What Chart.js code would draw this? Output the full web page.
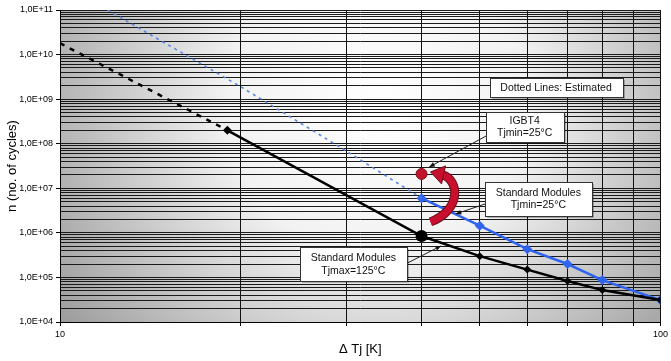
<!DOCTYPE html>
<html>
<head>
<meta charset="utf-8">
<script src="https://cdn.jsdelivr.net/npm/chart.js@4.4.1/dist/chart.umd.min.js"></script>
<style>
    html, body { margin: 0; padding: 0; background: #fff; }
    #wrap { width: 671px; height: 361px; }
</style>
</head>
<body>
<div id="wrap"><canvas id="cyclesChart" width="671" height="361"></canvas></div>
<script>
// Values (x: delta Tj in K, y: number of cycles)
const blackEstX = [10, 19];
const blackEstY = [1.8e10, 2.0e8];
const blackX = [19, 40, 50, 60, 70, 80, 100];
const blackY = [2.0e8, 8.5e5, 3.0e5, 1.5e5, 8.3e4, 5.2e4, 3.1e4];

const blueEstX = [12, 20, 30, 40];
const blueEstY = [1.0e11, 1.9e9, 6.8e7, 6.0e6];
const blueX = [40, 50, 60, 70, 80, 100];
const blueY = [6.0e6, 1.45e6, 4.3e5, 2.0e5, 8.7e4, 3.1e4];

const igbtX = [40];
const igbtY = [2.1e7];

const xTickValues = [10, 20, 30, 40, 50, 60, 70, 80, 90, 100];
const xTickLabels = ['10', '', '', '', '', '', '', '', '', '100'];
const yTickValues = [1e4, 1e5, 1e6, 1e7, 1e8, 1e9, 1e10, 1e11];
const yTickLabels = ['1,0E+04', '1,0E+05', '1,0E+06', '1,0E+07', '1,0E+08', '1,0E+09', '1,0E+10', '1,0E+11'];
const minorSteps = [2, 3, 4, 5, 6, 7, 8, 9];

const toPoints = (xs, ys) => xs.map((v, i) => ({ x: v, y: ys[i] }));

// callout boxes, anchored in data units
const callouts = [
    { lines: ['Dotted Lines: Estimated'], at: [67, 1.8e9], w: 133, h: 19 },
    { lines: ['IGBT4', 'Tjmin=25°C'], at: [59.4, 2.4e8], w: 78, h: 30, side: 'left', dy: 9, tip: [41.2, 3.0e7] },
    { lines: ['Standard Modules', 'Tjmin=25°C'], at: [62.6, 5.8e6], w: 107, h: 34, side: 'left', dy: 5, tip: [45.6, 2.65e6] },
    { lines: ['Standard Modules', 'Tjmax=125°C'], at: [30.8, 2.0e5], w: 107, h: 34, side: 'right', dy: -1, tip: [43.1, 5.1e5] },
];

const plotBackground = {
    id: 'plotBackground',
    beforeDraw(chart) {
        const { ctx, chartArea: a } = chart;
        ctx.save();
        const cx = a.left + a.width * 0.53, cy = a.top + a.height * 0.3;
        const g = ctx.createRadialGradient(cx, cy, 0, cx, cy, 430);
        g.addColorStop(0, '#ffffff');
        g.addColorStop(0.35, '#f2f2f2');
        g.addColorStop(1, '#8c8c8c');
        ctx.fillStyle = g;
        ctx.fillRect(a.left, a.top, a.width, a.height);
        ctx.restore();
    }
};

function arrowHead(ctx, fx, fy, tx, ty, size) {
    const ang = Math.atan2(ty - fy, tx - fx);
    ctx.beginPath();
    ctx.moveTo(tx, ty);
    ctx.lineTo(tx - size * Math.cos(ang - 0.4), ty - size * Math.sin(ang - 0.4));
    ctx.lineTo(tx - size * Math.cos(ang + 0.4), ty - size * Math.sin(ang + 0.4));
    ctx.closePath();
    ctx.fill();
}

const calloutPlugin = {
    id: 'callouts',
    afterDatasetsDraw(chart) {
        const { ctx, scales: { x, y } } = chart;
        ctx.save();

        // red curved arrow next to the IGBT4 point
        const px = x.getPixelForValue(igbtX[0]);
        const py = y.getPixelForValue(igbtY[0]);
        ctx.lineCap = 'butt';
        const body = () => {
            ctx.beginPath();
            ctx.moveTo(px + 9, py + 48);
            ctx.bezierCurveTo(px + 40, py + 36, px + 38, py + 6, px + 21, py + 1);
        };
        ctx.strokeStyle = '#6e0c18';
        ctx.lineWidth = 9;
        body(); ctx.stroke();
        ctx.strokeStyle = '#c8102e';
        ctx.lineWidth = 7;
        body(); ctx.stroke();
        ctx.beginPath();
        ctx.moveTo(px + 9, py - 2);
        ctx.lineTo(px + 24, py - 8);
        ctx.lineTo(px + 20, py + 10);
        ctx.closePath();
        ctx.fillStyle = '#c8102e';
        ctx.fill();
        ctx.strokeStyle = '#6e0c18';
        ctx.lineWidth = 1;
        ctx.stroke();

        // boxes with leader arrows
        ctx.font = '10.5px "Liberation Sans", Arial, sans-serif';
        ctx.textAlign = 'center';
        ctx.textBaseline = 'middle';
        callouts.forEach(c => {
            const cx = x.getPixelForValue(c.at[0]);
            const cy = y.getPixelForValue(c.at[1]);
            const l = Math.round(cx - c.w / 2) + 0.5;
            const t = Math.round(cy - c.h / 2) + 0.5;
            if (c.tip) {
                const sx = c.side === 'left' ? l : l + c.w;
                const sy = cy + c.dy;
                const tx = x.getPixelForValue(c.tip[0]);
                const ty = y.getPixelForValue(c.tip[1]);
                ctx.strokeStyle = '#222';
                ctx.fillStyle = '#111';
                ctx.lineWidth = 1;
                ctx.beginPath();
                ctx.moveTo(sx, sy);
                ctx.lineTo(tx, ty);
                ctx.stroke();
                arrowHead(ctx, sx, sy, tx, ty, 6);
            }
            ctx.fillStyle = 'rgba(0,0,0,0.25)';
            ctx.fillRect(l + 1.5, t + 1.5, c.w, c.h);
            ctx.fillStyle = '#ffffff';
            ctx.fillRect(l, t, c.w, c.h);
            ctx.strokeStyle = '#333';
            ctx.lineWidth = 1;
            ctx.strokeRect(l, t, c.w, c.h);
            ctx.fillStyle = '#111';
            const lh = 12.3;
            c.lines.forEach((txt, i) => {
                ctx.fillText(txt, cx, cy + (i - (c.lines.length - 1) / 2) * lh + 0.5);
            });
        });
        ctx.restore();
    }
};

const ctx = document.getElementById('cyclesChart');
new Chart(ctx, {
    type: 'line',
    data: {
        datasets: [
            {
                label: 'Standard Modules Tjmax=125°C (estimated)',
                data: toPoints(blackEstX, blackEstY),
                borderColor: '#000',
                borderWidth: 2.5,
                borderDash: [5, 6],
                pointRadius: 0,
            },
            {
                label: 'Standard Modules Tjmin=25°C (estimated)',
                data: toPoints(blueEstX, blueEstY),
                borderColor: '#5b86e0',
                borderWidth: 1.6,
                borderDash: [3, 4],
                pointRadius: 0,
            },
            {
                label: 'Standard Modules Tjmax=125°C',
                data: toPoints(blackX, blackY),
                borderColor: '#000',
                backgroundColor: '#000',
                borderWidth: 2.5,
                pointStyle: ['rectRot', 'circle', 'rectRot', 'rectRot', 'rectRot', 'rectRot', 'rectRot'],
                pointRadius: [4.5, 6, 4, 4, 4, 4, 4],
                pointBorderWidth: 0,
            },
            {
                label: 'Standard Modules Tjmin=25°C',
                data: toPoints(blueX, blueY),
                borderColor: '#2f63f0',
                backgroundColor: '#2f63f0',
                borderWidth: 2.5,
                pointStyle: 'rectRot',
                pointRadius: 5,
                pointBorderWidth: 0,
            },
            {
                label: 'IGBT4 Tjmin=25°C',
                data: toPoints(igbtX, igbtY),
                showLine: false,
                borderColor: '#8a0f1e',
                backgroundColor: '#c0162c',
                pointStyle: 'circle',
                pointRadius: 5.5,
                pointBorderWidth: 1,
            }
        ]
    },
    options: {
        responsive: false,
        animation: false,
        events: [],
        layout: { padding: { top: 10, right: 10, left: 0, bottom: 0 } },
        plugins: {
            legend: { display: false },
            tooltip: { enabled: false }
        },
        scales: {
            x: {
                type: 'logarithmic',
                min: 10,
                max: 100,
                afterBuildTicks: (s) => { s.ticks = xTickValues.map(v => ({ value: v })); },
                afterFit: (s) => { s.height = 39; },
                grid: { color: '#111', lineWidth: 1, tickLength: 4, tickColor: '#000' },
                border: { color: '#000', width: 1 },
                ticks: {
                    autoSkip: false, maxRotation: 0, padding: 3, color: '#000',
                    font: { family: '"Liberation Sans", Arial, sans-serif', size: 9 },
                    callback: (v) => xTickLabels[xTickValues.indexOf(v)] ?? ''
                },
                title: {
                    display: true, text: 'Δ Tj [K]', color: '#000',
                    font: { family: '"Liberation Sans", Arial, sans-serif', size: 13 },
                    padding: { top: 0, bottom: 4 }
                }
            },
            y: {
                type: 'logarithmic',
                min: 1e4,
                max: 1e11,
                afterBuildTicks: (s) => {
                    const t = [];
                    yTickValues.forEach((d, i) => {
                        t.push({ value: d, major: true });
                        if (i < yTickValues.length - 1) minorSteps.forEach(m => t.push({ value: d * m }));
                    });
                    s.ticks = t;
                },
                afterFit: (s) => { s.width = 60; },
                grid: {
                    color: '#1a1a1a', lineWidth: 1, tickLength: 4,
                    tickColor: (c) => yTickValues.includes(c.tick.value) ? '#000' : 'rgba(0,0,0,0)'
                },
                border: { color: '#000', width: 1 },
                ticks: {
                    autoSkip: false, padding: 3, color: '#000',
                    font: { family: '"Liberation Sans", Arial, sans-serif', size: 9 },
                    callback: (v) => {
                        const i = yTickValues.indexOf(v);
                        return i >= 0 ? yTickLabels[i] : '';
                    }
                },
                title: {
                    display: true, text: 'n (no. of cycles)', color: '#000',
                    font: { family: '"Liberation Sans", Arial, sans-serif', size: 13 },
                    padding: { top: 5, bottom: 0 }
                }
            }
        }
    },
    plugins: [plotBackground, calloutPlugin]
});
</script>
</body>
</html>
